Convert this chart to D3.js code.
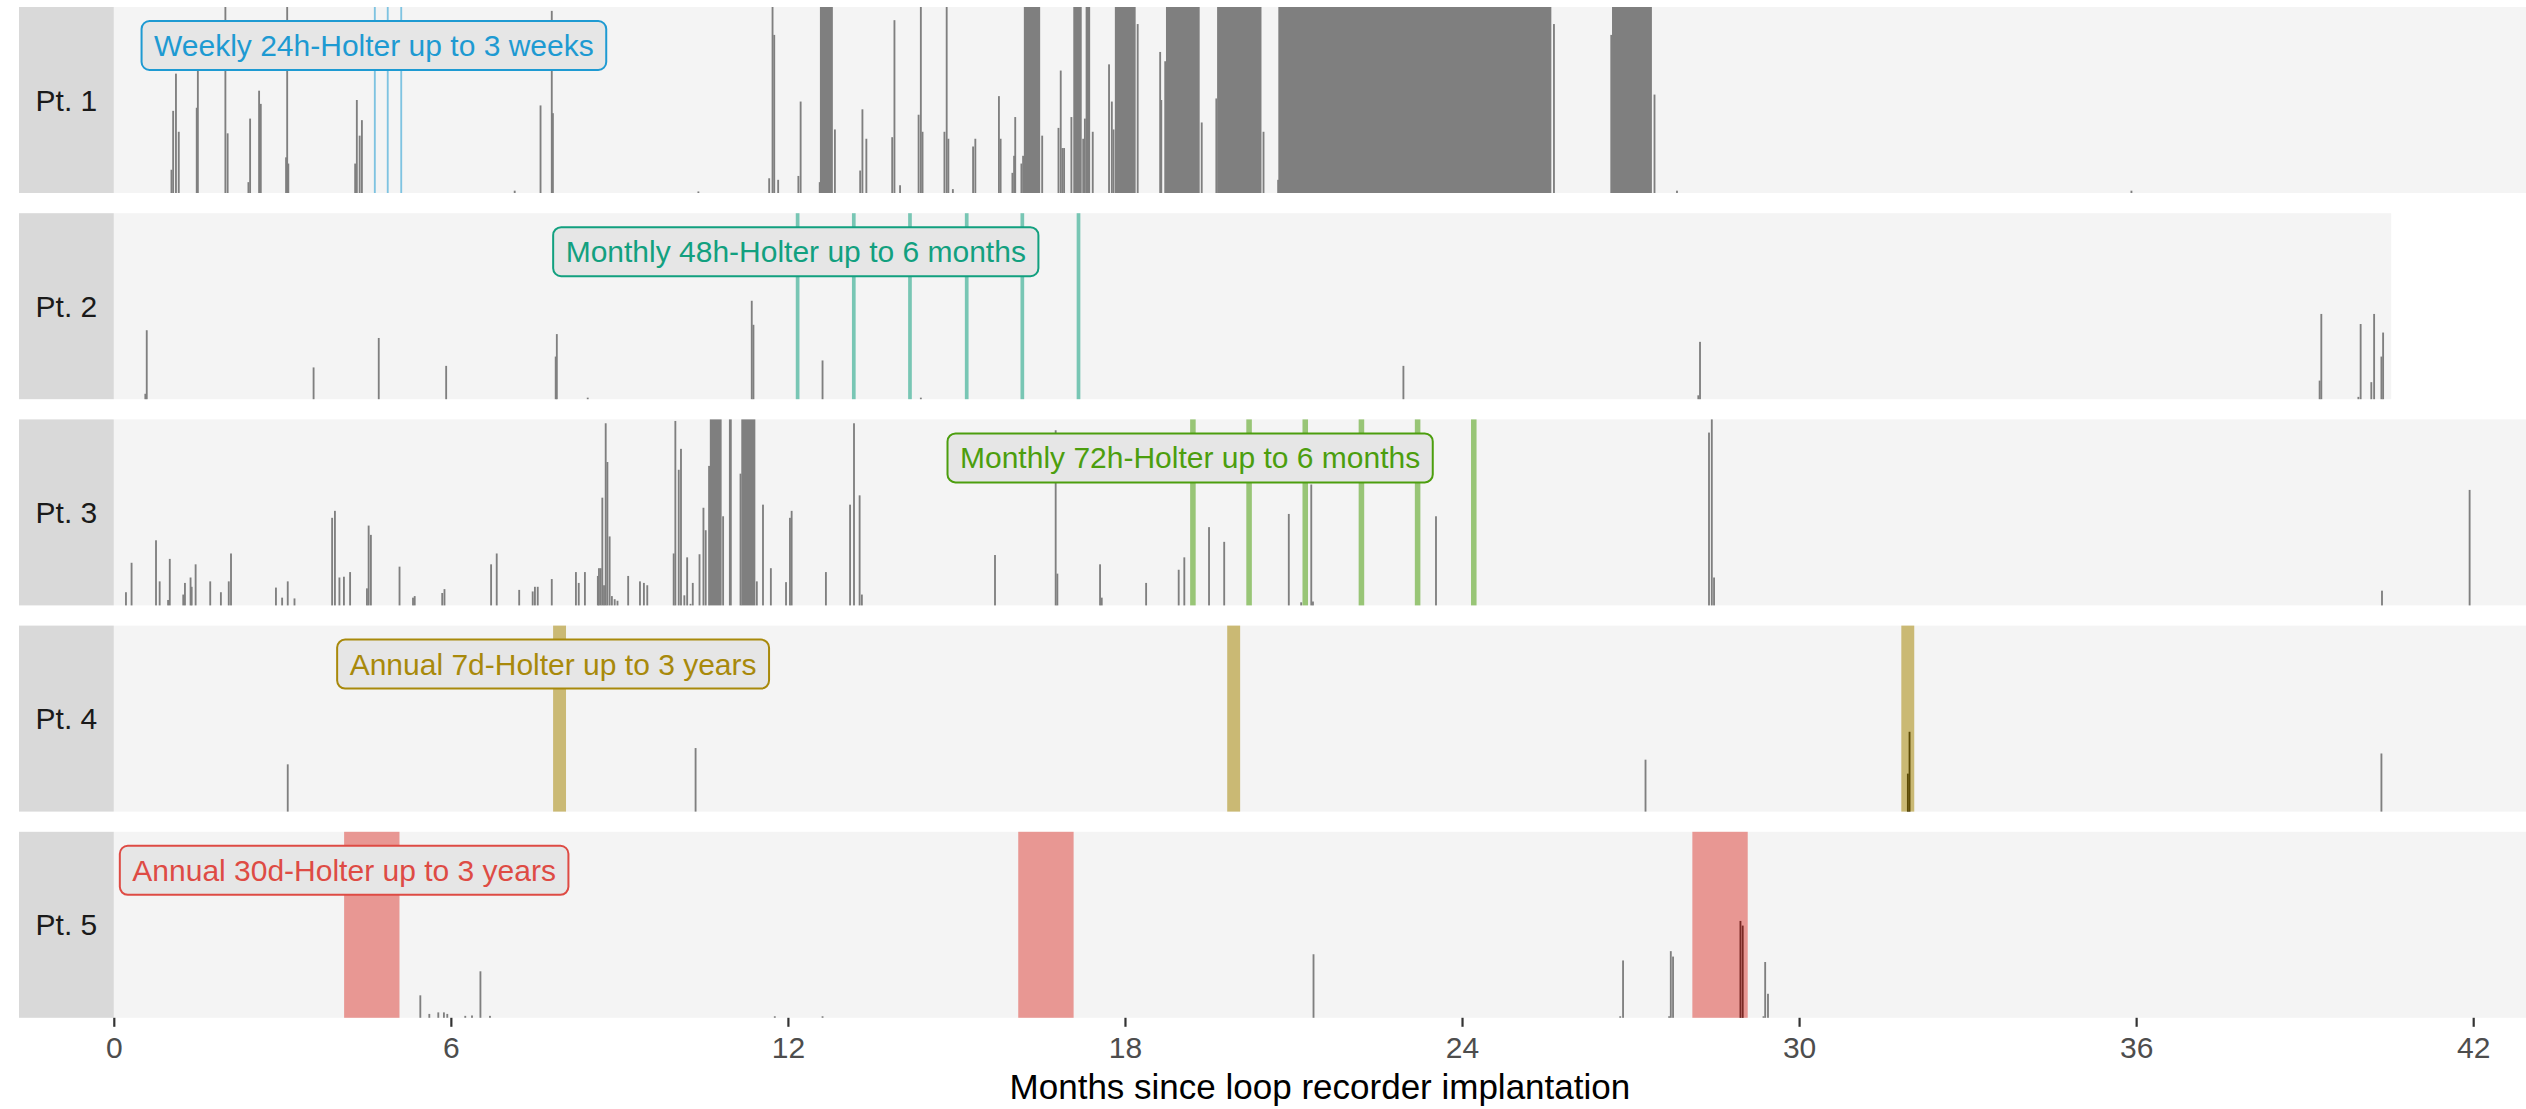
<!DOCTYPE html>
<html>
<head>
<meta charset="utf-8">
<script src="https://cdn.jsdelivr.net/npm/d3@7"></script>
<style>
  html, body { margin: 0; padding: 0; background: #ffffff; }
  svg { display: block; font-family: "Liberation Sans", Arial, Helvetica, sans-serif; }
</style>
</head>
<body>
<svg id="chart" width="2526" height="1109"></svg>
<script>
// ---------------- DATA ----------------
const patients = ["Pt. 1", "Pt. 2", "Pt. 3", "Pt. 4", "Pt. 5"];
// follow-up duration (months)
const followUp = [43, 40.54, 43, 43, 43];
const holterLabels = [
  "Weekly 24h-Holter up to 3 weeks",
  "Monthly 48h-Holter up to 6 months",
  "Monthly 72h-Holter up to 6 months",
  "Annual 7d-Holter up to 3 years",
  "Annual 30d-Holter up to 3 years"
];
const holterColors = ["#1E9AD2", "#12A07F", "#4C9E0E", "#A8890B", "#DE4B44"];
// Holter start (months since implantation) and duration (days)
const holterStarts = [
  [4.63, 4.86, 5.10],
  [12.14, 13.14, 14.14, 15.15, 16.14, 17.14],
  [19.16, 20.16, 21.16, 22.16, 23.16, 24.16],
  [7.82, 19.82, 31.82],
  [4.10, 16.10, 28.10]
];
const holterDays = [1, 2, 3, 7, 30];
const xTicks = [0, 6, 12, 18, 24, 30, 36, 42];

// Daily AF burden (hours/day). [month, hours] = single day, [fromMonth, toMonth, hours] = run of days
const afPt1 = [
  [1.01, 3.0], [1.04, 10.6], [1.09, 15.4], [1.14, 7.9], [1.46, 11], [1.48, 16.1], [1.97, 24], [2.01, 7.7],
  [2.38, 1.4], [2.41, 9.6], [2.57, 13.2], [2.60, 11.5], [3.05, 4.6], [3.07, 24], [3.09, 3.8],
  [4.28, 3.8], [4.31, 12], [4.36, 7.4], [4.40, 9.4], [7.12, 0.3], [7.58, 11.3], [7.78, 23.5], [7.80, 10.3],
  [10.39, 0.2], [11.65, 1.9], [11.71, 24], [11.74, 20.4], [11.81, 1.7], [12.17, 2.2], [12.21, 11.8],
  [12.55, 1.4], [12.57, 12.80, 24], [12.82, 8.2], [13.27, 2.9], [13.31, 10.8], [13.38, 7],
  [13.84, 7.2], [13.88, 22.3], [13.98, 1], [14.31, 10.1], [14.35, 24], [14.38, 7.9],
  [14.77, 7.9], [14.81, 24], [14.84, 7], [14.92, 0.5], [15.28, 6], [15.32, 7], [15.74, 12.5], [15.77, 7],
  [15.98, 2.6], [16.01, 4.8], [16.03, 9.8], [16.14, 3.8], [16.17, 4.8], [16.20, 16.49, 24], [16.51, 7.4],
  [16.80, 8.4], [16.84, 15.8], [16.87, 5.8], [16.90, 5.8], [17.03, 9.8], [17.08, 17.23, 24], [17.24, 7],
  [17.27, 9.6], [17.30, 17.38, 24], [17.41, 7.9], [17.70, 16.6], [17.75, 11.8], [17.78, 8.2],
  [17.82, 18.19, 24], [18.21, 21.8], [18.61, 18.2], [18.63, 12], [18.70, 17], [18.73, 19.33, 24],
  [19.35, 9.1], [19.61, 12.2], [19.64, 20.43, 24], [20.45, 7.9], [20.71, 1.7], [20.73, 25.59, 24],
  [25.62, 21.8], [26.64, 20.4], [26.67, 27.38, 24], [27.41, 12.7], [27.81, 0.3], [35.9, 0.3]
];
const afPt2 = [
  [0.545, 0.7], [0.57, 8.9], [3.54, 4.1], [4.70, 7.9], [5.90, 4.3], [7.85, 5.5], [7.87, 8.4], [8.42, 0.2],
  [11.34, 12.7], [11.37, 9.6], [12.60, 5], [14.35, 0.2], [22.94, 4.3], [28.19, 0.5], [28.22, 7.4],
  [39.25, 2.4], [39.28, 11], [39.94, 0.3], [39.98, 9.7], [40.17, 2.2], [40.22, 11], [40.35, 5.5], [40.38, 8.6]
];
const afPt3 = [
  [0.20, 1.7], [0.30, 5.5], [0.735, 8.4], [0.80, 3.1], [0.95, 0.7], [0.98, 6], [1.22, 1.4], [1.25, 2.9],
  [1.35, 3.6], [1.37, 2.4], [1.44, 5.3], [1.70, 3.1], [1.89, 1.7], [2.03, 3.1], [2.07, 6.7], [2.87, 2.3],
  [2.98, 1], [3.08, 3.1], [3.20, 0.9], [3.87, 11.3], [3.92, 12.2], [4.00, 3.6], [4.08, 3.7], [4.19, 4.3],
  [4.49, 2.2], [4.52, 10.3], [4.56, 9.1], [5.07, 5], [5.31, 1], [5.34, 1.2], [5.83, 1.6], [5.87, 2.1],
  [6.70, 5.3], [6.80, 6.7], [7.20, 2], [7.44, 1.8], [7.48, 2.4], [7.53, 2.4], [7.78, 3.4],
  [8.21, 4.3], [8.26, 2.9], [8.37, 4.3], [8.60, 3.8], [8.62, 4.8], [8.65, 4.8], [8.68, 13.9], [8.71, 2.6],
  [8.74, 23.5], [8.77, 18.5], [8.81, 8.9], [8.85, 1.2], [8.90, 0.8], [8.95, 0.6], [9.14, 3.8],
  [9.35, 3.1], [9.42, 2.9], [9.48, 2.6], [9.95, 6.7], [9.98, 23.8], [10.04, 17.5], [10.08, 20.2],
  [10.14, 1.3], [10.19, 6.2], [10.25, 0.2], [10.29, 2.9], [10.41, 6.6], [10.48, 12.6], [10.52, 9.7],
  [10.58, 18], [10.61, 10.82, 24], [10.83, 11.5], [10.95, 11.0, 24], [11.14, 17], [11.17, 11.42, 24],
  [11.43, 3.1], [11.54, 13], [11.68, 4.8], [11.95, 3], [12.02, 11.3], [12.05, 12.2], [12.66, 4.3],
  [13.09, 13], [13.16, 23.5], [13.26, 14.2], [13.30, 1.4], [15.67, 6.5],
  [16.75, 22.6], [16.78, 4.1], [17.54, 5.3], [17.57, 1], [18.36, 2.9], [18.94, 4.6], [19.04, 6.2],
  [19.48, 10.1], [19.75, 8.2], [20.90, 11.8], [21.12, 0.4], [21.30, 15.6], [21.33, 0.5], [23.52, 11.5],
  [28.38, 22.3], [28.43, 24], [28.47, 3.6], [40.36, 1.9], [41.92, 14.9]
];
const afPt4 = [
  [3.08, 6.1], [10.34, 8.2], [27.25, 6.7], [31.92, 4.9], [31.95, 10.3], [40.35, 7.5]
];
const afPt5 = [
  [5.44, 2.9], [5.60, 0.5], [5.76, 0.7], [5.86, 0.7], [5.92, 0.5], [6.24, 0.25], [6.36, 0.3],
  [6.51, 6], [6.68, 0.25], [11.75, 0.2], [12.60, 0.2], [21.34, 8.2], [26.80, 0.2], [26.85, 7.4],
  [27.67, 0.2], [27.70, 8.6], [27.74, 7.9], [28.94, 12.5], [28.98, 11.9], [29.35, 0.2], [29.38, 7.2], [29.43, 3.1]
];
const afData = [afPt1, afPt2, afPt3, afPt4, afPt5];

// ---------------- LAYOUT ----------------
const DAY = 1 / 30.44;       // one day in months
const svg = d3.select("#chart");
const x = d3.scaleLinear().domain([0, 42.94]).range([113.8, 2526]);
const stripX = 19;
const panelTop0 = 7, panelStep = 206.2, panelH = 186;

svg.append("defs").append("clipPath").attr("id", "plotclip")
  .append("rect").attr("x", x(0)).attr("y", 0).attr("width", x.range()[1] - x(0)).attr("height", 1109);

patients.forEach((name, i) => {
  const top = panelTop0 + i * panelStep;
  const y = d3.scaleLinear().domain([0, 24]).range([top + panelH, top]);
  const g = svg.append("g").attr("clip-path", "url(#plotclip)");

  // follow-up background
  g.append("rect")
    .attr("x", x(0)).attr("y", top)
    .attr("width", x(Math.min(followUp[i], x.domain()[1])) - x(0))
    .attr("height", panelH)
    .attr("fill", "#F4F4F4");

  const windows = holterStarts[i].map(s => [s, s + holterDays[i] * DAY]);
  const inHolter = m => windows.some(w => m >= w[0] - 1e-6 && m < w[1]);

  // bars
  const bars = afData[i].map(d => d.length === 2
    ? { s: d[0], e: d[0] + DAY, h: d[1] }
    : { s: d[0], e: d[1], h: d[2] });
  g.selectAll("rect.bar").data(bars).enter().append("rect")
    .attr("class", "bar")
    .attr("x", d => x(d.s))
    .attr("width", d => Math.max(x(d.e) - x(d.s), 1.6))
    .attr("y", d => y(d.h))
    .attr("height", d => y(0) - y(d.h))
    .attr("fill", d => inHolter(d.s) ? "#000000" : "#7F7F7F");

  // holter windows
  g.selectAll("rect.holter").data(windows).enter().append("rect")
    .attr("class", "holter")
    .attr("x", d => x(d[0]))
    .attr("width", d => Math.max(x(d[1]) - x(d[0]), 1.8))
    .attr("y", top).attr("height", panelH)
    .attr("fill", holterColors[i]).attr("fill-opacity", 0.55);

  // strip
  svg.append("rect")
    .attr("x", stripX).attr("y", top)
    .attr("width", x(0) - stripX).attr("height", panelH)
    .attr("fill", "#D9D9D9");
  svg.append("text")
    .attr("x", (stripX + x(0)) / 2).attr("y", top + panelH / 2)
    .attr("text-anchor", "middle").attr("dominant-baseline", "central")
    .attr("font-size", 30).attr("fill", "#1A1A1A")
    .text(name);

  // label
  const lg = svg.append("g");
  const cx = x(holterStarts[i][0]);
  const cy = top + 38.5;
  const txt = lg.append("text")
    .attr("x", cx).attr("y", cy)
    .attr("text-anchor", "middle").attr("dominant-baseline", "central")
    .attr("font-size", 30).attr("fill", holterColors[i])
    .text(holterLabels[i]);
  const tw = txt.node().getComputedTextLength();
  lg.insert("rect", "text")
    .attr("x", cx - tw / 2 - 12.5).attr("y", cy - 24.5)
    .attr("width", tw + 25).attr("height", 49)
    .attr("rx", 8).attr("ry", 8)
    .attr("fill", "#E6E6E6")
    .attr("stroke", holterColors[i]).attr("stroke-width", 2);
});

// x axis
const bottom = panelTop0 + 4 * panelStep + panelH;
const axis = svg.append("g")
  .attr("transform", `translate(0,${bottom})`)
  .call(d3.axisBottom(x).tickValues(xTicks).tickSize(9).tickPadding(10).tickFormat(d3.format("d")));
axis.select(".domain").remove();
axis.selectAll(".tick line").attr("stroke", "#333333").attr("stroke-width", 2.2);
axis.selectAll(".tick text")
  .attr("font-size", 30).attr("fill", "#4D4D4D")
  .attr("font-family", "Liberation Sans, Arial, Helvetica, sans-serif");

svg.append("text")
  .attr("x", (x.range()[0] + x.range()[1]) / 2).attr("y", 1099)
  .attr("text-anchor", "middle")
  .attr("font-size", 35).attr("fill", "#000000")
  .text("Months since loop recorder implantation");
</script>
</body>
</html>
